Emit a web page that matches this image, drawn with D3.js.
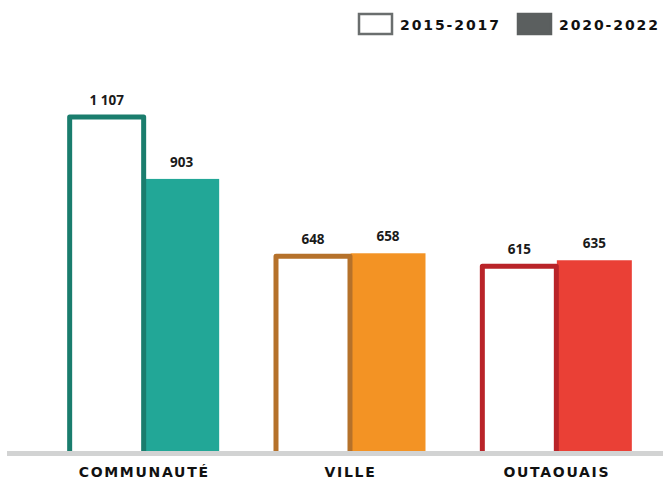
<!DOCTYPE html>
<html>
<head>
<meta charset="utf-8">
<script src="https://cdn.jsdelivr.net/npm/d3@7"></script>
<style>
  html, body { margin: 0; padding: 0; background: #fff; }
  svg { display: block; }
</style>
</head>
<body>
<svg id="chart" width="663" height="481"></svg>
<script>
// Categories and the two periods compared
const categories = ["COMMUNAUTÉ", "VILLE", "OUTAOUAIS"];
const periods = ["2015-2017", "2020-2022"];
const values2015 = [1107, 648, 615];
const values2020 = [903, 658, 635];
const valueLabels2015 = ["1 107", "648", "615"];
const valueLabels2020 = ["903", "658", "635"];

// Per-category colours: outline for the earlier period, fill for the later
const outlineColors = ["#1a7d6d", "#b5712a", "#b92429"];
const fillColors = ["#22a797", "#f39324", "#ea4036"];

const svg = d3.select("#chart");
const baseY = 453;

const y = d3.scaleLinear().domain([0, 1107]).range([baseY, 117]);
const x0 = d3.scaleBand().domain(categories).range([41, 660]).padding(0);
const barW = 75;
const x1 = d3.scaleBand().domain(periods)
  .range([x0.bandwidth() / 2 - barW, x0.bandwidth() / 2 + barW]).padding(0);

const data = categories.map((c, i) => ({
  cat: c, i,
  v1: values2015[i], v2: values2020[i],
  l1: valueLabels2015[i], l2: valueLabels2020[i]
}));

const groups = svg.selectAll("g.grp").data(data).join("g")
  .attr("class", "grp")
  .attr("transform", d => `translate(${x0(d.cat)},0)`);

// Filled bars (2020-2022)
groups.append("rect")
  .attr("x", x1(periods[1]))
  .attr("y", d => y(d.v2))
  .attr("width", x1.bandwidth())
  .attr("height", d => baseY - y(d.v2))
  .attr("fill", d => fillColors[d.i]);

// Open outline bars (2015-2017), no bottom edge
const sw = 5;
groups.append("path")
  .attr("d", d => {
    const xl = x1(periods[0]) + sw / 2 - 2;
    const xr = x1(periods[0]) + x1.bandwidth() - sw / 2 + 2;
    const top = y(d.v1);
    return `M${xl},${baseY}V${top}H${xr}V${baseY}`;
  })
  .attr("fill", "#fff")
  .attr("stroke", d => outlineColors[d.i])
  .attr("stroke-width", sw)
  .attr("stroke-linejoin", "round");

// Value labels
const labelFont = "'Open Sans', 'Liberation Sans', sans-serif";
groups.append("text")
  .attr("x", x1(periods[0]) + x1.bandwidth() / 2)
  .attr("y", d => y(d.v1) - 12)
  .attr("text-anchor", "middle")
  .attr("font-family", labelFont)
  .attr("font-weight", 700)
  .attr("font-size", 13.5)
  .attr("fill", "#1a1a1a")
  .text(d => d.l1);

groups.append("text")
  .attr("x", x1(periods[1]) + x1.bandwidth() / 2)
  .attr("y", d => y(d.v2) - 12)
  .attr("text-anchor", "middle")
  .attr("font-family", labelFont)
  .attr("font-weight", 700)
  .attr("font-size", 13.5)
  .attr("fill", "#1a1a1a")
  .text(d => d.l2);

// Baseline
svg.append("rect")
  .attr("x", 7).attr("y", baseY - 2)
  .attr("width", 656).attr("height", 5)
  .attr("fill", "#d2d3d3");

// Category axis labels
const xAxis = d3.axisBottom(x0).tickSize(0).tickPadding(0);
const axisG = svg.append("g")
  .attr("transform", `translate(0,${baseY + 10})`)
  .call(xAxis);
axisG.select(".domain").remove();
axisG.selectAll("text")
  .attr("dy", "1em")
  .attr("font-family", "'DejaVu Sans', Verdana, sans-serif")
  .attr("font-weight", 700)
  .attr("font-size", 14)
  .attr("letter-spacing", "1.7px")
  .attr("fill", "#111");

// Legend
const legend = svg.append("g");
const legendItems = [
  { label: periods[0], x: 359, fill: "#fff", stroke: "#6a6e6e" },
  { label: periods[1], x: 518, fill: "#5b5f5f", stroke: "#5b5f5f" }
];
legendItems.forEach(it => {
  legend.append("rect")
    .attr("x", it.x).attr("y", 14)
    .attr("width", 33).attr("height", 20)
    .attr("fill", it.fill)
    .attr("stroke", it.stroke)
    .attr("stroke-width", 2.5);
  legend.append("text")
    .attr("x", it.x + 41).attr("y", 30)
    .attr("font-family", "'DejaVu Sans', Verdana, sans-serif")
    .attr("font-weight", 700)
    .attr("font-size", 14)
    .attr("letter-spacing", "1.9px")
    .attr("fill", "#111")
    .text(it.label);
});
</script>
</body>
</html>
